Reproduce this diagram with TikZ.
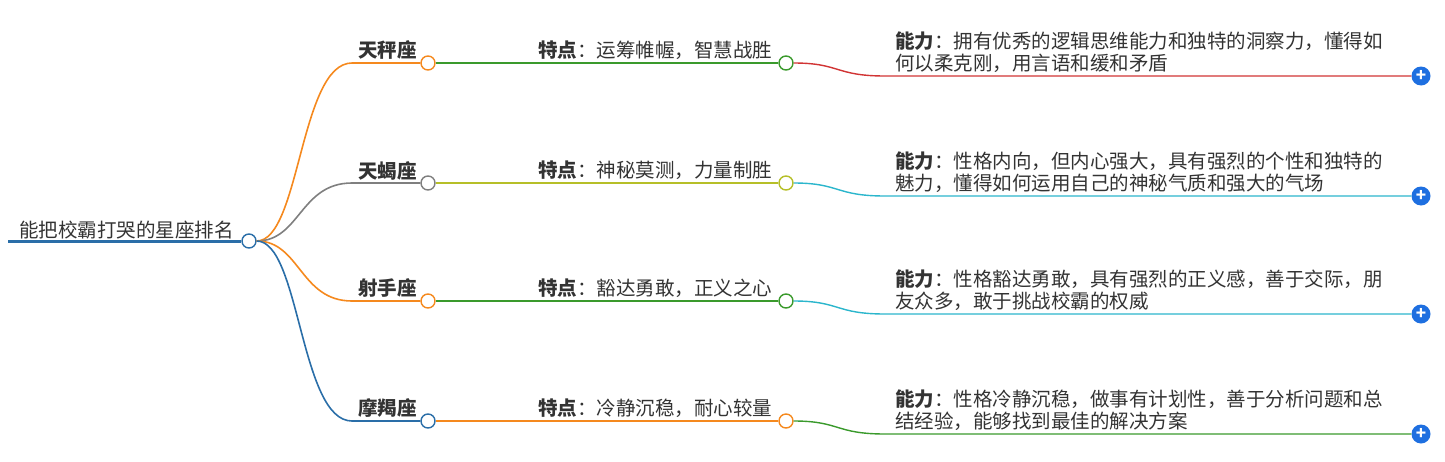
\documentclass[tikz,border=0pt]{standalone}
\usepackage{fontspec}
\setmainfont{Noto Sans CJK SC}
\begin{document}
\begin{tikzpicture}[x=1pt,y=-1pt,
  dot/.style={circle,draw=#1,fill=white,line width=1.4pt,minimum size=14pt,inner sep=0pt},
  plus/.style={circle,fill=pblue,minimum size=19pt,inner sep=0pt,text=white,font=\bfseries\fontsize{17}{17}\selectfont},
  lbl/.style={anchor=south west,inner sep=0pt,text=ctext,font=\fontsize{19.5}{21}\selectfont},
  captext/.style={anchor=south west,inner sep=0pt,align=left,text=ctext,font=\fontsize{19.5}{22}\selectfont,text width=540pt}]
\definecolor{ctext}{HTML}{333333}
\definecolor{cblue}{HTML}{2A6EA8}
\definecolor{corange}{HTML}{F5891E}
\definecolor{cgray}{HTML}{7F7F7F}
\definecolor{cgreen}{HTML}{3A9A2C}
\definecolor{colive}{HTML}{B6BF28}
\definecolor{cred}{HTML}{D13434}
\definecolor{ccyan}{HTML}{2BB6CC}
\definecolor{pblue}{HTML}{1E6FE0}
\useasboundingbox (0,0) rectangle (1445,461);
\node[dot=cblue] (root) at (249,241) {};
\coordinate (r0) at (8,241);
\draw[cblue,line width=3pt] (r0) -- (root.west);
\node[lbl] (rt) at (19,239) {能把校霸打哭的星座排名};
\foreach \i/\y/\na/\ca/\nb/\cb/\cc/\ta/\tb in {
 1/63/天秤座/corange/运筹帷幄，智慧战胜/cgreen/cred/拥有优秀的逻辑思维能力和独特的洞察力，懂得如/何以柔克刚，用言语和缓和矛盾,
 2/183/天蝎座/cgray/神秘莫测，力量制胜/colive/ccyan/性格内向，但内心强大，具有强烈的个性和独特的/魅力，懂得如何运用自己的神秘气质和强大的气场,
 3/301/射手座/corange/豁达勇敢，正义之心/cgreen/ccyan/性格豁达勇敢，具有强烈的正义感，善于交际，朋/友众多，敢于挑战校霸的权威,
 4/421/摩羯座/cblue/冷静沉稳，耐心较量/corange/cgreen/性格冷静沉稳，做事有计划性，善于分析问题和总/结经验，能够找到最佳的解决方案}{
  \node[dot=\ca] (a\i) at (428,\y) {};
  \node[dot=\cb] (b\i) at (786,\y) {};
  \node[plus] (p\i) at (1421,\y+13) {+};
  \coordinate (c\i) at (885,\y+13);
  \draw[\ca,line width=1.6pt] (root.east) .. controls (300,241) and (300,\y) .. (352,\y) -- (a\i.west);
  \draw[\cb,line width=1.4pt] (a\i.east) -- (b\i.west);
  \draw[\cc,line width=1.4pt] (b\i.east) .. controls (840,\y) and (835,\y+13) .. (c\i) -- (p\i.west);
  \node[lbl,font=\bfseries\fontsize{19.5}{21}\selectfont] (n\i) at (358,\y-3) {\na};
  \node[lbl] (t\i) at (538,\y-3) {\textbf{特点}：\nb};
  \node[captext] (k\i) at (895,\y+10) {\textbf{能力}：\ta\\\tb};
}
\end{tikzpicture}
\end{document}
